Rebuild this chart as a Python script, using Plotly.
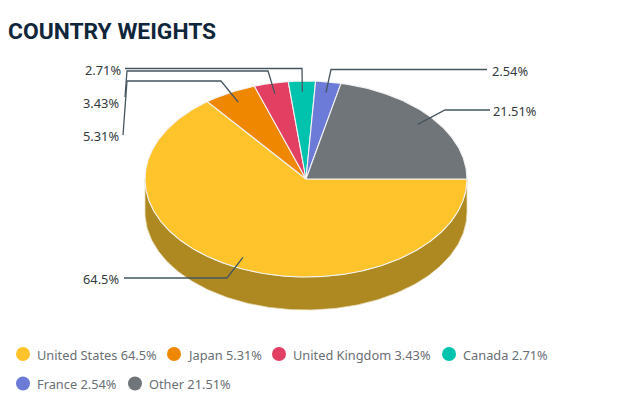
import numpy as np
import plotly.graph_objects as go

# ---- data ----
countries = ["United States", "Japan", "United Kingdom", "Canada", "France", "Other"]
weights = [64.5, 5.31, 3.43, 2.71, 2.54, 21.51]
value_labels = ["64.5%", "5.31%", "3.43%", "2.71%", "2.54%", "21.51%"]
title_text = "COUNTRY WEIGHTS"

# ---- styles and layout (pixel-scaled axes) ----
W, H = 621, 406
colors = ["#FFC42C", "#EF8700", "#E33F62", "#00C3AE", "#6C7BD8", "#6F7578"]
WALL = "#AE8820"
CX, CY, RX, RY, DEPTH = 306, 179, 161, 98, 33
ANCHOR = 0.89
LINE = "#46565F"
LABEL_FONT = dict(family="Noto Sans", size=12.8, color="#333A40")
LEGEND_FONT = dict(family="Noto Sans", size=12.8, color="#6A6F75")

# leader routing after the anchor point, per series: bends, then label point
leader_routes = [
    [(227, 278), (124, 278)],
    [(221, 81), (127, 81), (123, 135)],
    [(268, 71), (127, 71), (125, 97)],
    [(302, 68.5), (125, 68.5)],
    [(331, 69.5), (487, 69.5)],
    [(445, 110), (490, 110)],
]
label_places = [
    (119, 279, "right"), (119, 136, "right"), (119, 103, "right"),
    (121, 70, "right"), (492, 71, "left"), (493, 110.5, "left"),
]
legend_places = [(23, 354), (174, 354), (279, 354), (449, 354), (23, 383.5), (135, 383.5)]
LEGEND_GAP = 14


def ellipse(deg, dy=0.0, f=1.0):
    a = np.radians(deg)
    return CX + RX * f * np.cos(a), CY - RY * f * np.sin(a) + dy


fig = go.Figure()

# side wall of the disc (front half only)
arc = np.linspace(180, 360, 181)
tx, ty = ellipse(arc)
bx, by = ellipse(arc[::-1], dy=DEPTH)
fig.add_trace(go.Scatter(
    x=np.r_[tx, bx, tx[0]], y=np.r_[ty, by, ty[0]], mode="lines", fill="toself",
    fillcolor=WALL, line=dict(color="#E8DDBB", width=0.8), hoverinfo="skip", showlegend=False,
))

# slices: clockwise from the 3 o'clock position
end_angle = 360.0
mids = []
for name, val, col in zip(countries, weights, colors):
    span = val / sum(weights) * 360
    start_angle = end_angle - span
    mids.append((start_angle + end_angle) / 2)
    t = np.linspace(start_angle, end_angle, max(int(span * 2), 8))
    ex, ey = ellipse(t)
    fig.add_trace(go.Scatter(
        x=np.r_[CX, ex, CX], y=np.r_[CY, ey, CY], mode="lines", fill="toself",
        fillcolor=col, line=dict(color="#F2F2F2", width=1.1),
        name=f"{name} {val}%", hoveron="fills", showlegend=False,
    ))
    end_angle = start_angle

# leader lines
for mid, route in zip(mids, leader_routes):
    ax, ay = ellipse(mid, f=ANCHOR)
    fig.add_trace(go.Scatter(
        x=[ax] + [p[0] for p in route], y=[ay] + [p[1] for p in route], mode="lines",
        line=dict(color=LINE, width=1.3), hoverinfo="skip", showlegend=False,
    ))

# legend dots
fig.add_trace(go.Scatter(
    x=[p[0] for p in legend_places], y=[p[1] for p in legend_places], mode="markers",
    marker=dict(size=14, color=colors, line=dict(width=0)), hoverinfo="skip", showlegend=False,
))

annotations = [dict(
    x=8, y=31, xref="x", yref="y", text=title_text, showarrow=False, xanchor="left", yanchor="middle",
    font=dict(family="Roboto", size=22.8, color="#10263A", weight="bold"),
    borderpad=0, borderwidth=0,
)]
for txt, (lx, ly, side) in zip(value_labels, label_places):
    annotations.append(dict(x=lx, y=ly, xref="x", yref="y", text=txt, showarrow=False,
                            xanchor=side, yanchor="middle", font=LABEL_FONT,
                            borderpad=0, borderwidth=0))
for name, val, (lx, ly) in zip(countries, weights, legend_places):
    annotations.append(dict(x=lx + LEGEND_GAP, y=ly + 0.5, xref="x", yref="y", text=f"{name} {val}%",
                            showarrow=False, xanchor="left", yanchor="middle", font=LEGEND_FONT,
                            borderpad=0, borderwidth=0))

fig.update_layout(
    width=W, height=H, margin=dict(l=0, r=0, t=0, b=0),
    paper_bgcolor="white", plot_bgcolor="white",
    xaxis=dict(range=[0, W], visible=False, fixedrange=True),
    yaxis=dict(range=[H, 0], visible=False, fixedrange=True),
    annotations=annotations, showlegend=False,
)
fig.write_html(
    "out.html", config=dict(displayModeBar=False),
    post_script="document.body.style.margin='0';document.documentElement.style.overflow='hidden';",
)
